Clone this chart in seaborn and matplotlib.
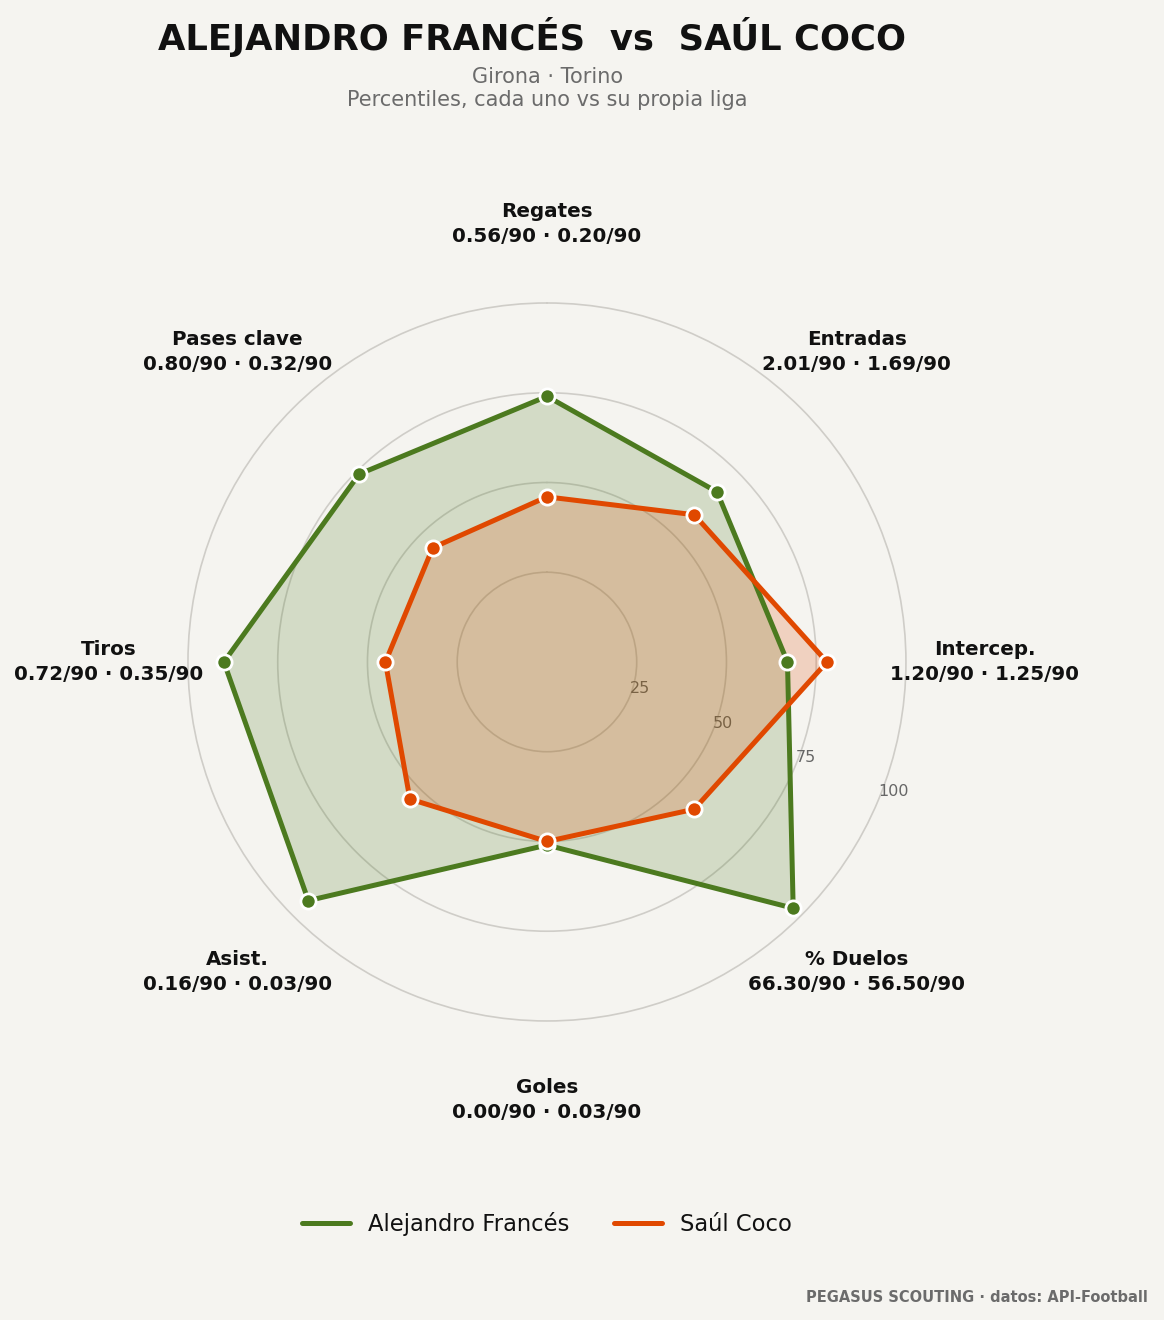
import numpy as np
import pandas as pd
import matplotlib.pyplot as plt
import seaborn as sns

# data
categories = ['Regates', 'Entradas', 'Intercep.', '% Duelos', 'Goles', 'Asist.', 'Tiros', 'Pases clave']
frances_pct = [74, 67, 67, 97, 51, 94, 90, 74]
coco_pct = [46, 58, 78, 58, 50, 54, 45, 45]
frances_p90 = [0.56, 2.01, 1.20, 66.30, 0.00, 0.16, 0.72, 0.80]
coco_p90 = [0.20, 1.69, 1.25, 56.50, 0.03, 0.03, 0.35, 0.32]
players = ['Alejandro Francés', 'Saúl Coco']
teams = ['Girona', 'Torino']
r_ticks = [25, 50, 75, 100]

BG = '#f5f4f0'
GREEN = '#4c7a1f'
ORANGE = '#e04800'

sns.set_theme(style='white', rc={'figure.facecolor': BG, 'axes.facecolor': BG,
                                 'savefig.facecolor': BG})
plt.rcParams['font.family'] = ['DejaVu Sans']

fig = plt.figure(figsize=(11.64, 13.2), dpi=100)
# a little headroom above 100 so the outer ring is not clipped
ax = fig.add_axes([0.1553, 0.2211, 0.6292, 0.5548], polar=True)
ax.set_theta_offset(np.pi / 2)
ax.set_theta_direction(-1)
ax.set_axisbelow(True)

angles = np.linspace(0, 2 * np.pi, len(categories), endpoint=False)
theta_closed = np.append(angles, angles[0])


def closed(vals):
    return np.append(vals, vals[0])


df = pd.DataFrame({
    'theta': np.concatenate([theta_closed, theta_closed]),
    'pct': np.concatenate([closed(frances_pct), closed(coco_pct)]),
    'player': [players[0]] * len(theta_closed) + [players[1]] * len(theta_closed),
})

for name, color in zip(players, [GREEN, ORANGE]):
    sub = df[df['player'] == name]
    ax.fill(sub['theta'], sub['pct'], color=color, alpha=0.2, linewidth=0, zorder=1)

for name, color in zip(players, [GREEN, ORANGE]):
    sub = df[df['player'] == name]
    sns.lineplot(data=sub, x='theta', y='pct', sort=False, estimator=None, color=color,
                 linewidth=3.6, label=name, ax=ax, zorder=3)
    sns.scatterplot(data=sub.iloc[:-1], x='theta', y='pct', color=color, s=120,
                    edgecolor='white', linewidth=2, ax=ax, zorder=4, legend=False)

ax.set_ylim(0, 102)
ax.set_yticks(r_ticks)
ax.set_yticklabels([str(t) for t in r_ticks], fontsize=11.5, color='#666666')
ax.set_rlabel_position(112.5)
ax.set_xticks(angles)
ax.set_xticklabels([])
ax.xaxis.grid(False)
ax.yaxis.grid(True, color='#cfcdc8', linewidth=1.2)
ax.spines['polar'].set_visible(False)
ax.set_xlabel('')
ax.set_ylabel('')

for ang, cat, a, b in zip(angles, categories, frances_p90, coco_p90):
    ax.text(ang, 122, f'{cat}\n{a:.2f}/90 · {b:.2f}/90', ha='center', va='center',
            fontsize=14.3, fontweight='bold', color='#111111', linespacing=1.4)

handles, labels = ax.get_legend_handles_labels()
ax.get_legend().remove()
leg = fig.legend(handles, labels, loc='center', bbox_to_anchor=(0.47, 0.0727), ncol=2,
                 frameon=False, fontsize=16.3, handlelength=2.1, columnspacing=2.0)
for t in leg.get_texts():
    t.set_color('#111111')

fig.text(0.457, 0.972, 'ALEJANDRO FRANCÉS  vs  SAÚL COCO', ha='center', va='center',
         fontsize=25.5, fontweight='bold', color='#111111')
fig.text(0.47, 0.933, f'{teams[0]} · {teams[1]}\nPercentiles, cada uno vs su propia liga',
         ha='center', va='center', fontsize=15, color='#6b6b6b', linespacing=1.15)
fig.text(0.9865, 0.0174, 'PEGASUS SCOUTING · datos: API-Football', ha='right', va='center',
         fontsize=10.5, fontweight='bold', color='#6b6b6b')

fig.savefig('out.png', dpi=100)
